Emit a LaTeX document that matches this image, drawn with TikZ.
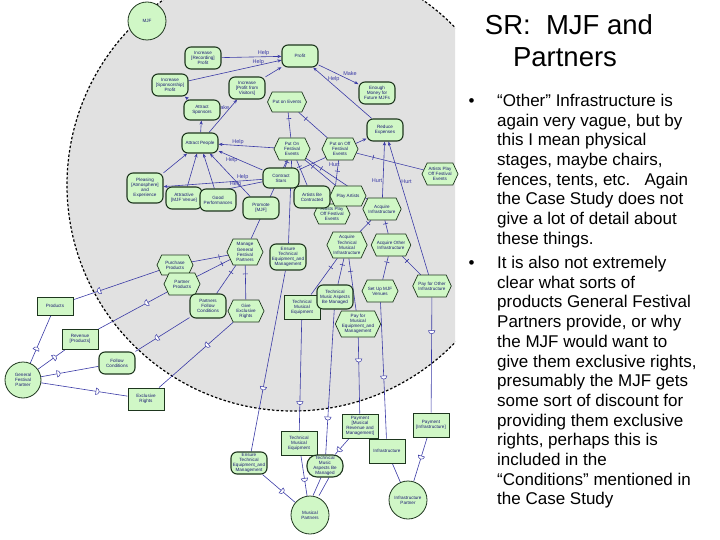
\documentclass[tikz,border=0pt]{standalone}
\usepackage{fontspec}
\setmainfont{Liberation Sans}
\usetikzlibrary{shapes.symbols,arrows.meta,decorations.markings}
\definecolor{ng}{HTML}{D0F7C6}
\definecolor{nb}{HTML}{1E361E}
\definecolor{eb}{HTML}{3A3AA6}
\definecolor{tb}{HTML}{1C1C72}
\definecolor{bgc}{HTML}{E1E1E1}
\pgfdeclarelayer{bgl}
\pgfdeclarelayer{edl}
\pgfsetlayers{bgl,edl,main}
\tikzset{
  nd/.style={fill=ng, draw=nb, text=tb, align=center, inner sep=0.5pt, font=\fontsize{4.6}{5.1}\selectfont, minimum width=36pt, minimum height=22pt},
  goal/.style={nd, rounded corners=6pt, line width=1.1pt},
  task/.style={nd, shape=signal, signal to=east and west, signal pointer angle=130, line width=0.7pt},
  res/.style={nd, rectangle, line width=1pt},
  actor/.style={nd, circle, minimum size=38pt, line width=0.8pt},
  ed/.style={draw=eb, line width=0.6pt},
  contr/.style={ed, -{Stealth[length=4pt,width=3.2pt]}},
  dec/.style={ed, postaction={decorate, decoration={markings, mark=at position #1 with {\draw[eb, line width=0.6pt] (0pt,-2.5pt) -- (0pt,2.5pt);}}}},
  dec/.default=0.25,
  dep/.style={ed, postaction={decorate, decoration={markings, mark=at position #1 with {\draw[eb, fill=white, line width=0.5pt] (-1.3pt,-3.2pt) -- (-1.3pt,3.2pt) arc[start angle=90, end angle=-90, radius=3.2pt] -- cycle;}}}},
  dep/.default=0.5,
  lab/.style={text=eb, font=\fontsize{5.5}{6}\selectfont, inner sep=0.5pt},
  para/.style={font=\fontsize{17}{19.7}\selectfont, anchor=base west, inner sep=0pt},
  ttl/.style={font=\fontsize{27.5}{30}\selectfont, anchor=base, inner sep=0pt}
}
\begin{document}
\begin{tikzpicture}[x=1pt,y=-1pt]
\useasboundingbox (0,0) rectangle (720,540);
\begin{pgfonlayer}{bgl}
\begin{scope}
\clip (0,0) rectangle (455,540);
\fill[bgc] (293,185) circle[radius=226pt];
\draw[black, line width=1.2pt, dash pattern=on 2.5pt off 2pt] (293,185) circle[radius=226pt];
\end{scope}
\end{pgfonlayer}

% ---- MJF internal elements
\node[actor] (MJF) at (147,21) {MJF};
\node[goal] (IRP) at (203,58) {Increase\\{}[Recording]\\Profit};
\node[goal] (ISP) at (170,85) {Increase\\{}[Sponsorship]\\Profit};
\node[goal] (IPV) at (247,88) {Increase\\{}[Profit from\\Visitors]};
\node[goal, minimum height=20pt] (AS) at (202,110) {Attract\\Sponsors};
\node[goal] (Profit) at (300,56) {Profit};
\node[task, minimum height=20pt] (PoE) at (287,102) {Put on Events};
\node[goal] (EM) at (377,93) {Enough\\Money for\\Future MJFs};
\node[goal] (RE) at (385,130) {Reduce\\Expenses};
\node[goal, minimum height=20pt] (AP) at (200,143) {Attract People};
\node[task] (PFE) at (292,149) {Put On\\Festival\\Events};
\node[task] (POFE) at (340,149) {Put on Off\\Festival\\Events};
\node[task] (APOR) at (440,174) {Artists Play\\Off Festival\\Events};
\node[goal, minimum height=30pt] (PAE) at (145,188) {Pleasing\\{}[Atmosphere]\\and\\Experience};
\node[goal] (AMV) at (184,198) {Attractive\\{}[MJF Venue]};
\node[goal] (GP) at (218,200) {Good\\Performances};
\node[goal] (PM) at (261,208) {Promote\\{}[MJF]};
\node[goal, minimum height=20pt] (CS) at (281,178) {Contract\\Stars};
\node[task, minimum height=20pt] (APOM) at (332,214) {Artists Play\\Off Festival\\Events};
\node[goal] (ABC) at (312,197) {Artists Be\\Contracted};
\node[task, minimum height=20pt] (PA) at (348,196) {Play Artists};
\node[task] (AI) at (382,209) {Acquire\\Infrastructure};
\node[task, minimum height=20pt] (PP) at (175,265) {Purchase\\Products};
\node[task] (PrP) at (182,284) {Partner\\Products};
\node[goal, minimum height=24pt] (PFC) at (208,306) {Partners\\Follow\\Conditions};
\node[task, minimum height=26pt] (MGFP) at (245,252) {Manage\\General\\Festival\\Partners};
\node[task] (GER) at (246,311) {Give\\Exclusive\\Rights};
\node[goal, minimum height=26pt] (ETEi) at (288,257) {Ensure\\Technical\\Equipment\_and\\Management};
\node[task, minimum height=26pt] (ATMI) at (347,245) {Acquire\\Technical\\Musical\\Infrastructure};
\node[task] (AOI) at (391,245) {Acquire Other\\Infrastructure};
\node[res, minimum height=24pt] (TMEi) at (302,307) {Technical\\Musical\\Equipment};
\node[goal, minimum height=24pt] (TMAi) at (335,297) {Technical\\Music Aspects\\Be Managed};
\node[task, minimum height=26pt] (PME) at (358,324) {Pay for\\Musical\\Equipment\_and\\Management};
\node[task] (SUV) at (380,291) {Set Up MJF\\Venues};
\node[task] (POI) at (432,286) {Pay for Other\\Infrastructure};

% ---- external actors and dependums
\node[res, minimum height=18pt] (Products) at (55,306) {Products};
\node[res, minimum height=20pt] (RevP) at (80,339) {Revenue\\{}[Products]};
\node[actor, minimum size=36pt] (GFP) at (23,380) {General\\Festival\\Partner};
\node[goal] (FC) at (117,363) {Follow\\Conditions};
\node[res] (ER) at (146,399) {Exclusive\\Rights};
\node[goal] (ETEo) at (249,463) {Ensure\\Technical\\Equipment\_and\\Management};
\node[res, minimum height=24pt] (TMEo) at (299,443) {Technical\\Musical\\Equipment};
\node[goal, rounded corners=10pt] (TMAo) at (325,466) {Technical\\Music\\Aspects Be\\Managed};
\node[res, minimum height=24pt] (PMR) at (360,426) {Payment\\{}[Musical\\Revenue and\\Management]};
\node[res, minimum height=24pt] (Inf) at (387,451) {Infrastructure};
\node[res, minimum height=24pt] (PI) at (431,425) {Payment\\{}[Infrastructure]};
\node[actor] (MP) at (310,515) {Musical\\Partners};
\node[actor] (IP) at (408,500) {Infrastructure\\Partner};

\begin{pgfonlayer}{edl}
% contributions
\draw[contr] (IRP) -- node[lab, above, pos=0.7] (l1) {Help} (Profit);
\draw[contr] (ISP) -- node[lab, above, pos=0.75] (l2) {Help} (Profit);
\draw[contr] (IPV) -- (Profit);
\draw[contr] (AS) -- (ISP);
\draw[contr] (AP) -- (AS);
\draw[contr] (AP) -- node[lab, left, pos=0.75] (l3) {Make} (IPV);
\draw[contr] (RE) -- node[lab, above, pos=0.7, xshift=3pt] (l4) {Help} (Profit);
\draw[contr] (Profit) -- node[lab, above right, pos=0.6] (l5) {Make} (EM);
\draw[contr] (PFE) -- node[lab, above, pos=0.65] (l6) {Help} (AP);
\draw[contr] (CS) -- node[lab, below, pos=0.7] (l7) {Help} (AP);
\draw[contr] (PAE) -- (AP);
\draw[contr] (AMV) -- (AP);
\draw[contr] (GP) -- (AP);
\draw[contr] (PM) -- (AP);
\draw[contr] (CS) -- node[lab, above, pos=0.2] (l8) {Help} (PAE);
\draw[contr] (CS) -- node[lab, above, pos=0.45] (l9) {Help} (AMV);
\draw[contr] (AI) -- node[lab, left, pos=0.3] (l10) {Hurt} (RE);
\draw[contr] (POI) -- node[lab, right, pos=0.7] (l11) {Hurt} (RE);
\draw[contr] (CS) -- node[lab, below=9pt, pos=0.52] (l12) {Hurt} (RE);
% decompositions
\draw[dec] (PoE) -- (PFE);
\draw[dec] (PoE) -- (POFE);
\draw[dec] (POFE) -- (APOR);
\draw[dec] (POFE) -- (APOM);
\draw[dec] (PFE) -- (CS);
\draw[dec] (PFE) -- (ABC);
\draw[dec] (PFE) -- (PA);
\draw[dec] (PFE) -- (AI);
\draw[dec=0.15] (PFE) -- (MGFP);
\draw[dec=0.15] (PFE) -- (ETEi);
\draw[dec] (AI) -- (ATMI);
\draw[dec] (AI) -- (AOI);
\draw[dec] (AOI) -- (SUV);
\draw[dec] (AOI) -- (POI);
\draw[dec] (ATMI) -- (TMEi);
\draw[dec] (ATMI) -- (TMAi);
\draw[dec] (ATMI) -- (PME);
\draw[dec] (MGFP) -- (PP);
\draw[dec] (MGFP) -- (PrP);
\draw[dec] (MGFP) -- (PFC);
\draw[dec] (MGFP) -- (GER);
% dependencies
\draw[dep=0.7] (PP) -- (Products);
\draw[dep=0.3] (PrP) -- (RevP);
\draw[dep=0.6] (PFC) -- (FC);
\draw[dep=0.35] (GER) -- (ER);
\draw[dep=0.3] (GFP) -- (Products);
\draw[dep=0.6] (GFP) -- (RevP);
\draw[dep=0.3] (GFP) -- (FC);
\draw[dep=0.65] (GFP) -- (ER);
\draw[dep=0.65] (ETEi) -- (ETEo);
\draw[dep=0.75] (TMEi) -- (TMEo);
\draw[dep=0.75] (TMAi) -- (TMAo);
\draw[dep=0.3] (PME) -- (PMR);
\draw[dep=0.55] (SUV) -- (Inf);
\draw[dep=0.3] (POI) -- (PI);
\draw[dep=0.6] (ETEo) -- (MP);
\draw[dep=0.6] (TMEo) -- (MP);
\draw[ed] ([xshift=-4pt]TMAo.south) -- ([xshift=3pt]MP.north);
\draw[ed] ([xshift=4pt]TMAo.south) -- ([xshift=9pt]MP.north);
\draw[dep=0.7] (PMR) -- (TMAo);
\draw[ed] (Inf) -- (IP);
\draw[dep=0.45] (PI) -- (IP);
\end{pgfonlayer}

% ---- text panel
\node[ttl] (ti1) at (569,35) {SR:\ \ MJF and};
\node[ttl] (ti2) at (565,67) {Partners};
\node[para] (bu1) at (468.5,106.5) {•};
\node[para] (bu2) at (468.5,268.5) {•};
\foreach \t [count=\i from 0] in {{“Other” Infrastructure is},{again very vague, but by},{this I mean physical},{stages, maybe chairs,},{fences, tents, etc.\ \ \ Again},{the Case Study does not},{give a lot of detail about},{these things.}}
  \node[para] (pa\i) at (497,{106.5+19.7*\i}) {\t};
\foreach \t [count=\i from 0] in {{It is also not extremely},{clear what sorts of},{products General Festival},{Partners provide, or why},{the MJF would want to},{give them exclusive rights,},{presumably the MJF gets},{some sort of discount for},{providing them exclusive},{rights, perhaps this is},{included in the},{“Conditions” mentioned in},{the Case Study}}
  \node[para] (pb\i) at (497,{268.5+19.7*\i}) {\t};
\end{tikzpicture}
\end{document}
